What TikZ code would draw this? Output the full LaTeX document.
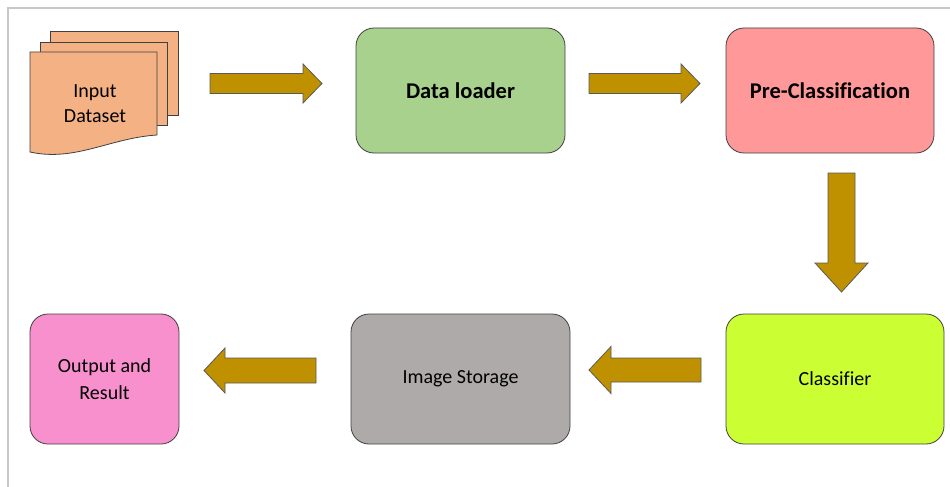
\documentclass[tikz,border=0pt]{standalone}
\usepackage{fontspec}
\setmainfont{Carlito}[Ligatures=NoCommon]
\usetikzlibrary{calc,positioning}

\definecolor{sheetorange}{HTML}{F4B183}
\definecolor{loadgreen}{HTML}{A9D18E}
\definecolor{prered}{HTML}{FF9999}
\definecolor{classlime}{HTML}{CCFF33}
\definecolor{storegray}{HTML}{AEAAAA}
\definecolor{outpink}{HTML}{F990CE}
\definecolor{flowgold}{HTML}{BF9000}

\begin{document}
\begin{tikzpicture}[x=1pt,y=-1pt,
	pics/fatarrow/.style n args={4}{code={
		\draw[flow] (-#1/2,-#2) -- (#1/2-#4,-#2) -- (#1/2-#4,-#3) -- (#1/2,0)
			-- (#1/2-#4,#3) -- (#1/2-#4,#2) -- (-#1/2,#2) -- cycle;
	}}]
	\tikzstyle{stage}=[draw=black!75, line width=.8pt, rounded corners=18pt, align=center, font=\fontsize{20}{26.5}\selectfont]
	\tikzstyle{header}=[font=\fontsize{22.5}{27}\selectfont\bfseries]
	\tikzstyle{sheet}=[draw=black!75, line width=.8pt, fill=sheetorange]
	\tikzstyle{flow}=[draw=black!65, line width=.8pt, fill=flowgold]

	\useasboundingbox (0,0) rectangle (950,487);
	\draw[black!22, line width=2pt] (8,487) -- (8,8) -- (950,8);

	% stacked input sheets
	\draw[sheet] (50,31) rectangle (178,115);
	\draw[sheet] (40,42) rectangle (167,125);
	\draw[sheet] (30,52) -- (157,52) -- (157,135) .. controls (110,138) and (75,162) .. (30,152) -- cycle;
	\node (input) [align=center, font=\fontsize{20}{25}\selectfont] at (95,104) {Input\\Dataset};

	\node (load) [stage, header, fill=loadgreen, minimum width=209pt, minimum height=125pt] at (460.5,90.5) {Data loader};
	\node (pre) [stage, header, fill=prered, minimum width=208pt, minimum height=125pt] at (830,90.5) {Pre-Classification};
	\node (cls) [stage, fill=classlime, minimum width=218pt, minimum height=130pt] at (835,379) {Classifier};
	\node (store) [stage, fill=storegray, minimum width=219pt, minimum height=130pt] at (460.5,379) {Image Storage};
	\node (out) [stage, fill=outpink, minimum width=149pt, minimum height=130pt] at (104.5,379) {Output and\\Result};

	\pic (f1) at (266,83.5) {fatarrow={112}{10}{19.5}{19}};
	\pic (f2) at (644.5,83.5) {fatarrow={111}{10}{19.5}{19}};
	\pic[rotate=-90] (f3) at (841.5,232.5) {fatarrow={119}{13.5}{26.5}{29}};
	\pic[rotate=180] (f4) at (645,370) {fatarrow={112}{12}{23.5}{22}};
	\pic[rotate=180] (f5) at (260,370.5) {fatarrow={112}{12.5}{22.5}{21}};

\end{tikzpicture}
\end{document}
